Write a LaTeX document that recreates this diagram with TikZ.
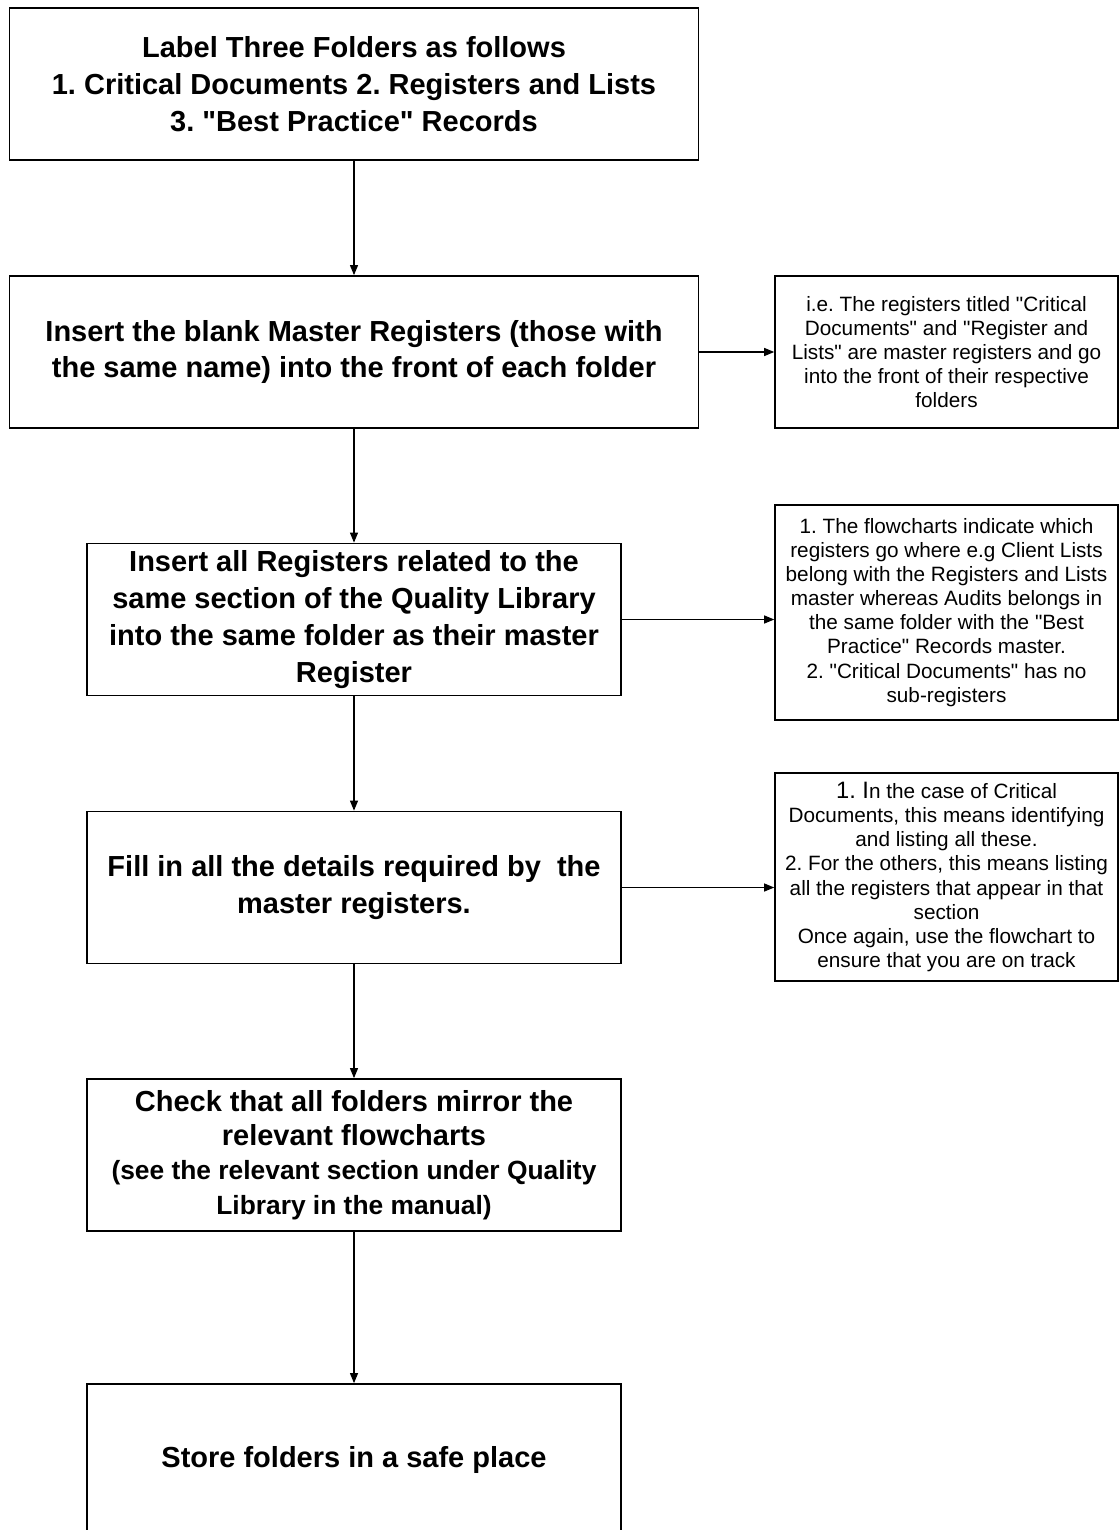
\documentclass[tikz,border=0pt]{standalone}
\usepackage{fontspec}
\setmainfont{Liberation Sans}
\usepackage{tikz}
\usetikzlibrary{arrows.meta}
\frenchspacing

\newcommand{\qt}{\textquotedbl}

\tikzset{
	stepbox/.style={draw, line width=1pt, minimum width=10.68cm, minimum height=3.04cm, align=center, inner sep=0pt, font=\bfseries\fontsize{16.5}{21}\selectfont},
	widebox/.style={stepbox, minimum width=13.78cm},
	notebox/.style={draw, line width=0.9pt, minimum width=6.86cm, align=center, inner sep=0pt, font=\fontsize{11.8}{13.7}\selectfont},
	link/.style={line width=0.6pt, -{Triangle[length=0.2cm,width=0.16cm]}}
}

\begin{document}
\begin{tikzpicture}
					\useasboundingbox (0,0) rectangle (22.38,-30.6); % page size
					
					% Main steps down the left
					\node[widebox] (label) at (7.08,-1.68) {Label Three Folders as follows\\1. Critical Documents 2. Registers and Lists\\3. \qt Best Practice\qt{} Records};
					\node[widebox] (master) at (7.08,-7.04) {Insert the blank Master Registers (those with\\the same name) into the front of each folder};
					\node[stepbox] (insert) at (7.08,-12.39) {Insert all Registers related to the\\same section of the Quality Library\\into the same folder as their master\\Register};
					\node[stepbox] (fill) at (7.08,-17.75) {Fill in all the details required by\ \ the\\master registers.};
					\node[stepbox, font=\bfseries\fontsize{16.5}{19.5}\selectfont] (check) at (7.08,-23.10) {Check that all folders mirror the\\relevant flowcharts\\{\fontsize{15}{17}\selectfont (see the relevant section under Quality}\\{\fontsize{15}{17}\selectfont Library in the manual)}};
					\node[stepbox] (store) at (7.08,-29.20) {Store folders in a safe place};
					
					% Notes on the right
					\node[notebox, minimum height=3.04cm] (note1) at (18.93,-7.04) {i.e. The registers titled \qt Critical\\Documents\qt{} and \qt Register and\\Lists\qt{} are master registers and go\\into the front of their respective\\folders};
					\node[notebox, minimum height=4.30cm] (note2) at (18.93,-12.25) {1. The flowcharts indicate which\\registers go where e.g Client Lists\\belong with the Registers and Lists\\master whereas Audits belongs in\\the same folder with the \qt Best\\Practice\qt{} Records master.\\2. \qt Critical Documents\qt{} has no\\sub-registers};
					\node[notebox, minimum height=4.16cm] (note3) at (18.93,-17.54) {{\fontsize{13.5}{13.7}\selectfont 1. I}n the case of Critical\\Documents, this means identifying\\and listing all these.\\2. For the others, this means listing\\all the registers that appear in that\\section\\Once again, use the flowchart to\\ensure that you are on track};
					
					% Connectors
					\draw[link] (label) -- (master);
					\draw[link] (master) -- (insert);
					\draw[link] (insert) -- (fill);
					\draw[link] (fill) -- (check);
					\draw[link] (check) -- (store);
					\draw[link] (master.east) -- (master.east -| note1.west); % to first note
					\draw[link] (insert.east) -- (insert.east -| note2.west); % to second note
					\draw[link] (fill.east) -- (fill.east -| note3.west);     % to third note
\end{tikzpicture}
\end{document}
